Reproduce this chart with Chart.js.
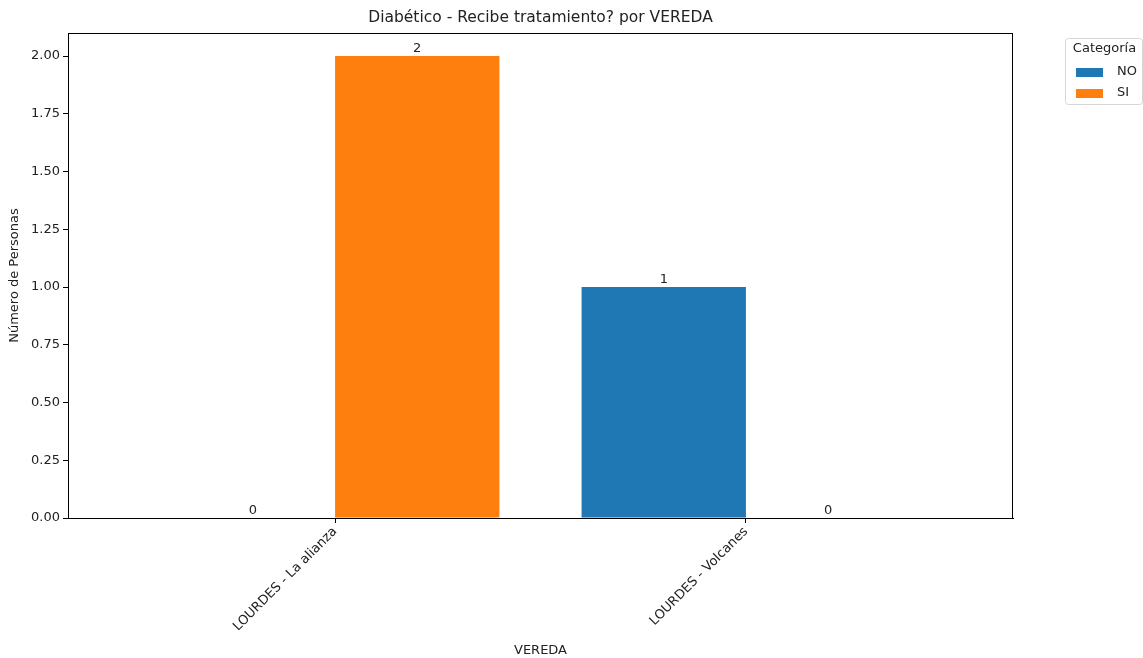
<!DOCTYPE html>
<html>
<head>
<meta charset="utf-8">
<script src="https://cdn.jsdelivr.net/npm/chart.js@4.4.1/dist/chart.umd.min.js"></script>
<style>
  html, body { margin: 0; padding: 0; background: #fff; }
  #grafico { display: block; }
</style>
</head>
<body>
<canvas id="grafico" width="1143" height="658"></canvas>
<script>
// Datos del grafico
var titulo = 'Diabético - Recibe tratamiento? por VEREDA';
var veredas = ['LOURDES - La alianza', 'LOURDES - Volcanes'];
var categorias = ['NO', 'SI'];
var valoresNO = [0, 1];
var valoresSI = [2, 0];
var ticksY = [0, 0.25, 0.5, 0.75, 1.0, 1.25, 1.5, 1.75, 2.0];
var colores = ['#1f77b4', '#ff7f0e'];

var fuente = 'DejaVu Sans';
var colorTexto = '#222';

function puntos(valores) {
  return valores.map(function (v, i) { return { x: i, y: v }; });
}

// Titulo centrado sobre el area, etiquetas de valor y marco
var pluginEtiquetas = {
  id: 'etiquetas',
  afterDatasetsDraw: function (chart) {
    var ctx = chart.ctx;
    var area = chart.chartArea;
    ctx.save();
    ctx.strokeStyle = '#000';
    ctx.lineWidth = 1;
    ctx.strokeRect(area.left + 0.5, area.top + 0.5, area.right - area.left - 1, area.bottom - area.top);

    ctx.fillStyle = colorTexto;
    ctx.textAlign = 'center';
    ctx.textBaseline = 'middle';
    ctx.font = '15.5px "' + fuente + '"';
    ctx.fillText(titulo, (area.left + area.right) / 2, 18);

    ctx.font = '13px "' + fuente + '"';
    ctx.textBaseline = 'bottom';
    chart.data.datasets.forEach(function (ds, i) {
      var meta = chart.getDatasetMeta(i);
      meta.data.forEach(function (barra, j) {
        ctx.fillText(String(ds.data[j].y), barra.x, barra.y - 1);
      });
    });
    ctx.restore();
  }
};

// Leyenda fuera del grafico, a la derecha
var pluginLeyenda = {
  id: 'leyendaDerecha',
  afterDraw: function (chart) {
    var ctx = chart.ctx;
    var x0 = 1065, y0 = 38, w = 77, h = 66;
    ctx.save();
    ctx.fillStyle = 'rgba(255,255,255,0.8)';
    ctx.strokeStyle = '#d6d6d6';
    ctx.lineWidth = 1;
    ctx.beginPath();
    ctx.roundRect(x0 + 0.5, y0 + 0.5, w, h, 3);
    ctx.fill();
    ctx.stroke();
    ctx.fillStyle = colorTexto;
    ctx.font = '13px "' + fuente + '"';
    ctx.textAlign = 'center';
    ctx.textBaseline = 'middle';
    ctx.fillText('Categoría', x0 + w / 2 + 1, y0 + 11);
    ctx.textAlign = 'left';
    chart.data.datasets.forEach(function (ds, i) {
      var y = y0 + 34 + i * 21;
      ctx.fillStyle = ds.backgroundColor;
      ctx.fillRect(x0 + 11, y - 4, 27, 9);
      ctx.fillStyle = colorTexto;
      ctx.fillText(ds.label, x0 + 52, y);
    });
    ctx.restore();
  }
};

new Chart(document.getElementById('grafico').getContext('2d'), {
  type: 'bar',
  data: {
    datasets: [
      { label: categorias[0], data: puntos(valoresNO), backgroundColor: colores[0] },
      { label: categorias[1], data: puntos(valoresSI), backgroundColor: colores[1] }
    ]
  },
  options: {
    responsive: false,
    animation: false,
    events: [],
    categoryPercentage: 0.8,
    barPercentage: 1.0,
    layout: { padding: { left: 0, right: 130, top: 33, bottom: 0 } },
    plugins: {
      legend: { display: false },
      tooltip: { enabled: false },
      title: { display: false }
    },
    scales: {
      x: {
        type: 'linear',
        min: -0.65,
        max: 1.65,
        offset: false,
        grid: { drawOnChartArea: false, offset: false, drawTicks: true, tickLength: 5, color: '#000' },
        border: { display: true, color: '#000' },
        afterBuildTicks: function (scale) {
          scale.ticks = veredas.map(function (v, i) { return { value: i }; });
        },
        ticks: {
          autoSkip: false,
          minRotation: 45,
          maxRotation: 45,
          padding: 1,
          color: colorTexto,
          font: { family: fuente, size: 13 },
          callback: function (valor) { return veredas[valor]; }
        },
        title: {
          display: true,
          text: 'VEREDA',
          color: colorTexto,
          font: { family: fuente, size: 13 },
          padding: { top: 0, bottom: 0 }
        },
        afterFit: function (scale) { scale.height = 140; }
      },
      y: {
        min: 0,
        max: 2.1,
        grid: { drawOnChartArea: false, drawTicks: true, tickLength: 5, color: '#000' },
        border: { display: true, color: '#000' },
        afterBuildTicks: function (scale) {
          scale.ticks = ticksY.map(function (v) { return { value: v }; });
        },
        ticks: {
          color: colorTexto,
          font: { family: fuente, size: 13 },
          padding: 3,
          callback: function (valor) { return valor.toFixed(2); }
        },
        title: {
          display: true,
          text: 'Número de Personas',
          color: colorTexto,
          font: { family: fuente, size: 13 },
          padding: { top: 7, bottom: 4 }
        },
        afterFit: function (scale) { scale.width = 68; }
      }
    }
  },
  plugins: [pluginEtiquetas, pluginLeyenda]
});
</script>
</body>
</html>
